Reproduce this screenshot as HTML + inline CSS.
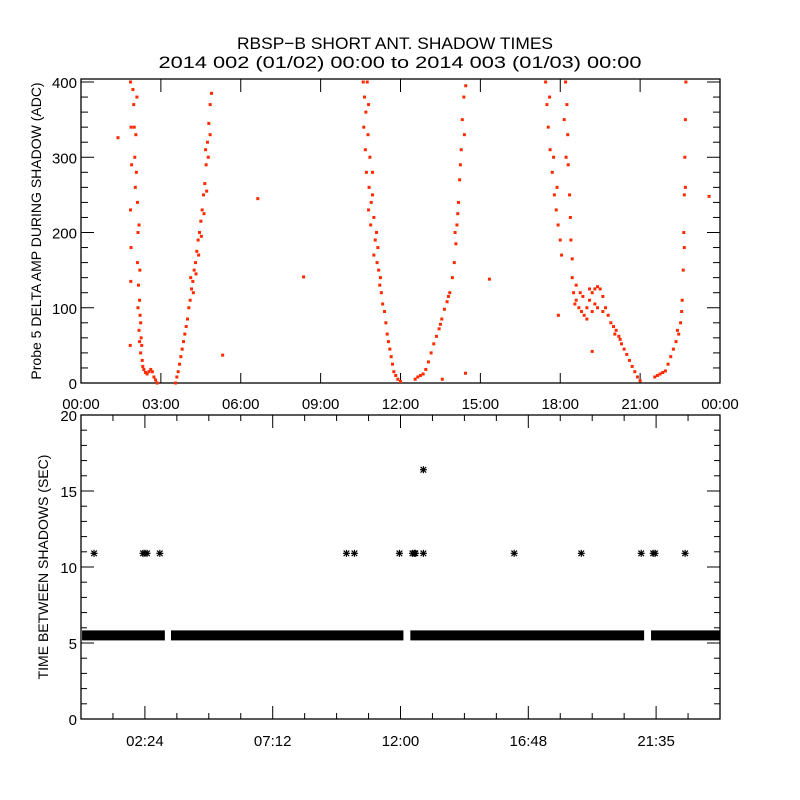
<!DOCTYPE html>
<html><head><meta charset="utf-8"><style>
html,body{margin:0;padding:0;background:#fff;}
svg{display:block;font-family:"Liberation Sans",sans-serif;}
</style></head><body>
<svg id="chart" width="800" height="800" viewBox="0 0 800 800" xmlns="http://www.w3.org/2000/svg">
<rect width="800" height="800" fill="#fff"/>
<text x="395" y="49" font-size="17" text-anchor="middle" textLength="316" lengthAdjust="spacingAndGlyphs">RBSP−B SHORT ANT. SHADOW TIMES</text>
<text x="400" y="68" font-size="17" text-anchor="middle" textLength="483" lengthAdjust="spacingAndGlyphs">2014 002 (01/02) 00:00 to 2014 003 (01/03) 00:00</text>
<g id="topPanel"></g>
<g id="botPanel"></g>
</svg>
<script>
// ---------- data: top panel (hours, ADC) ----------
const ampHours = [1.86,1.88,1.90,1.86,1.88,1.87,1.85,1.95,1.98,2.00,2.02,2.04,2.06,2.10,2.08,2.12,2.14,2.12,2.18,2.16,2.20,2.22,2.18,2.24,2.26,2.28,2.24,2.30,2.32,2.36,2.42,2.48,2.55,2.62,2.68,2.74,2.80,2.86,2.21,2.14,2.20,
3.55,3.60,3.65,3.70,3.75,3.80,3.85,3.90,3.95,4.00,4.05,4.10,4.15,4.20,4.25,4.30,4.35,4.40,4.45,4.50,4.55,4.60,4.65,4.70,4.75,4.80,4.85,4.90,4.12,4.22,4.32,4.42,4.52,4.62,4.72,4.78,4.68,4.85,
10.60,10.65,10.62,10.70,10.75,10.80,10.68,10.72,10.78,10.85,10.82,10.90,10.95,10.88,11.00,11.05,11.10,11.00,11.12,11.18,11.22,11.28,11.33,11.40,11.45,11.50,11.55,11.60,11.65,11.70,11.75,11.82,11.90,12.00,10.95,11.15,11.25,10.80,
12.55,12.65,12.75,12.85,12.95,13.05,13.15,13.25,13.35,13.45,13.55,13.65,13.75,13.85,13.95,14.02,14.08,14.12,14.18,14.22,14.28,14.32,14.38,14.45,13.50,13.80,14.05,14.15,14.25,14.40,
17.45,17.50,17.55,17.62,17.70,17.78,17.85,17.92,18.00,18.05,17.60,17.75,17.88,
18.20,18.25,18.28,18.30,18.35,18.38,18.40,18.45,18.15,18.22,
18.45,18.50,18.55,18.60,18.70,18.80,18.90,19.00,19.10,19.20,19.30,19.40,19.50,19.60,19.70,18.60,18.75,19.00,19.20,19.40,19.60,18.85,19.10,19.30,
19.80,19.90,20.00,20.10,20.20,20.30,20.40,20.50,20.60,20.70,20.80,20.90,21.00,20.05,20.25,
21.55,21.65,21.75,21.85,21.95,22.05,22.15,22.25,22.35,22.45,22.52,22.56,22.58,22.62,22.64,22.66,22.68,22.70,22.72,22.66,22.70,22.40,
1.39,6.64,8.36,5.32,15.34,17.93,19.2,23.59,14.44,13.57];
const ampValues = [400,340,290,230,180,135,50,390,370,340,300,260,330,380,280,240,200,160,210,130,110,90,70,80,60,50,40,30,22,18,14,12,15,18,15,8,4,0,150,100,55,
0,8,15,25,35,45,55,65,75,85,100,110,125,135,150,160,175,190,200,215,230,250,265,290,320,345,370,385,140,120,145,170,195,225,255,300,310,330,
400,380,340,360,400,370,310,280,330,300,260,240,280,210,220,190,200,170,160,150,130,120,105,95,80,65,55,45,35,25,15,10,5,2,250,180,140,230,
5,8,10,12,18,28,40,52,62,72,85,98,108,120,140,160,185,210,240,270,310,350,380,395,78,115,200,225,290,330,
400,370,340,310,280,250,230,210,190,170,380,300,260,
400,370,330,290,250,220,190,165,350,300,
140,120,105,110,100,95,90,100,110,120,125,128,125,115,100,130,120,85,95,100,95,115,125,105,
90,80,75,70,62,52,45,38,30,22,15,8,3,65,58,
8,10,12,14,16,25,35,45,55,65,80,95,110,150,200,250,300,350,400,180,260,70,
326,245,141,37,138,90,42,248,13,5];
const topXTicks = ["00:00","03:00","06:00","09:00","12:00","15:00","18:00","21:00","00:00"];
const topYTicks = [0,100,200,300,400];

// ---------- data: bottom panel ----------
const bandStart = [0.04,3.38,12.37,21.41];
const bandEnd   = [3.15,12.11,21.15,24.0];
const bandValue = [5.5,5.5,5.5,5.5];
const starHours = [0.49,2.33,2.40,2.48,2.96,9.97,10.27,11.96,12.45,12.52,12.56,12.86,16.27,18.79,21.04,21.49,21.56,22.69,12.86];
const starValues = [10.9,10.9,10.9,10.9,10.9,10.9,10.9,10.9,10.9,10.9,10.9,10.9,10.9,10.9,10.9,10.9,10.9,10.9,16.4];
const botXTickHours = [2.4,7.2,12.0,16.8,21.6];
const botXTicks = ["02:24","07:12","12:00","16:48","21:35"];
const botYTicks = [0,5,10,15,20];

const NS="http://www.w3.org/2000/svg";
function mk(tag,attrs,parent){const e=document.createElementNS(NS,tag);for(const k in attrs)e.setAttribute(k,attrs[k]);parent.appendChild(e);return e;}

const L=81,R=720;
const xs=h=>L+(h/24)*(R-L);
const T1=79,B1=383,YMAX1=404;
const y1=v=>B1-(v/YMAX1)*(B1-T1);
const T2=415,B2=719;
const y2=v=>B2-(v/20)*(B2-T2);

const topG=document.getElementById('topPanel');
const botG=document.getElementById('botPanel');

let f=mk('rect',{x:L,y:T1,width:R-L,height:B1-T1,fill:'none',stroke:'#000','stroke-width':1.3},topG);


for(let v=0;v<=400;v+=20){
  const len=(v%100===0)?13:7;
  const yy=y1(v);
  let t=mk('line',{x1:L,x2:L+len,y1:yy,y2:yy,stroke:'#000'},topG);
  
  
  let t2=mk('line',{x1:R,x2:R-len,y1:yy,y2:yy,stroke:'#000'},topG);
  
  
}
topYTicks.forEach(v=>{
  let tx=mk('text',{x:L-4,y:y1(v)+6,'font-size':15,'text-anchor':'end'},topG);
  tx.textContent=v;
  
  
});
topXTicks.forEach((lab,i)=>{
  const xx=xs(i*3);
  let a=mk('line',{x1:xx,x2:xx,y1:T1,y2:T1+13,stroke:'#000'},topG);
  
  
  let b=mk('line',{x1:xx,x2:xx,y1:B1,y2:B1-10,stroke:'#000'},topG);
  
  
  let tx=mk('text',{x:xx,y:409,'font-size':15,'text-anchor':'middle'},topG);
  tx.textContent=lab;
  
  
});
let yl=mk('text',{x:0,y:0,'font-size':14,'text-anchor':'middle',transform:'translate(41,231) rotate(-90)'},topG);
yl.textContent='Probe 5 DELTA AMP DURING SHADOW (ADC)';


ampHours.forEach((h,i)=>{
  let d=mk('rect',{x:xs(h)-1.5,y:y1(ampValues[i])-1.5,width:3,height:3,fill:'#ff2a00'},topG);
  
  
});

f=mk('rect',{x:L,y:T2,width:R-L,height:B2-T2,fill:'none',stroke:'#000','stroke-width':1.3},botG);


for(let v=0;v<=20;v++){
  const len=(v%5===0)?13:6;
  const yy=y2(v);
  let t=mk('line',{x1:L,x2:L+len,y1:yy,y2:yy,stroke:'#000'},botG);
  
  
  let t2=mk('line',{x1:R,x2:R-len,y1:yy,y2:yy,stroke:'#000'},botG);
  
  
}
botYTicks.forEach(v=>{
  let tx=mk('text',{x:L-4,y:y2(v)+6,'font-size':15,'text-anchor':'end'},botG);
  tx.textContent=v;
  
  
});
for(let k=1;k<20;k++){
  const h=k*1.2;
  const major=(k%4===2);
  const len=major?13:6;
  const xx=xs(h);
  let a=mk('line',{x1:xx,x2:xx,y1:T2,y2:T2+len,stroke:'#000'},botG);
  
  
  let b=mk('line',{x1:xx,x2:xx,y1:B2,y2:B2-len,stroke:'#000'},botG);
  
  
}
botXTicks.forEach((lab,i)=>{
  let tx=mk('text',{x:xs(botXTickHours[i]),y:746,'font-size':15,'text-anchor':'middle'},botG);
  tx.textContent=lab;
  
  
});
yl=mk('text',{x:0,y:0,'font-size':14,'text-anchor':'middle',transform:'translate(48,567) rotate(-90)'},botG);
yl.textContent='TIME BETWEEN SHADOWS (SEC)';


bandStart.forEach((s,i)=>{
  const x0=xs(s),x1=xs(bandEnd[i]);
  let r=mk('rect',{x:x0,y:y2(bandValue[i])-5,width:x1-x0,height:10,fill:'#000'},botG);
  
  
});
starHours.forEach((h,i)=>{
  const cx=xs(h),cy=y2(starValues[i]),s=3.5;
  const g=mk('g',{stroke:'#000','stroke-width':1.2},botG);
  
  
  mk('line',{x1:cx-s,x2:cx+s,y1:cy,y2:cy},g);
  mk('line',{x1:cx,x2:cx,y1:cy-s,y2:cy+s},g);
  mk('line',{x1:cx-s*0.8,x2:cx+s*0.8,y1:cy-s*0.8,y2:cy+s*0.8},g);
  mk('line',{x1:cx-s*0.8,x2:cx+s*0.8,y1:cy+s*0.8,y2:cy-s*0.8},g);
});
</script>
</body></html>
